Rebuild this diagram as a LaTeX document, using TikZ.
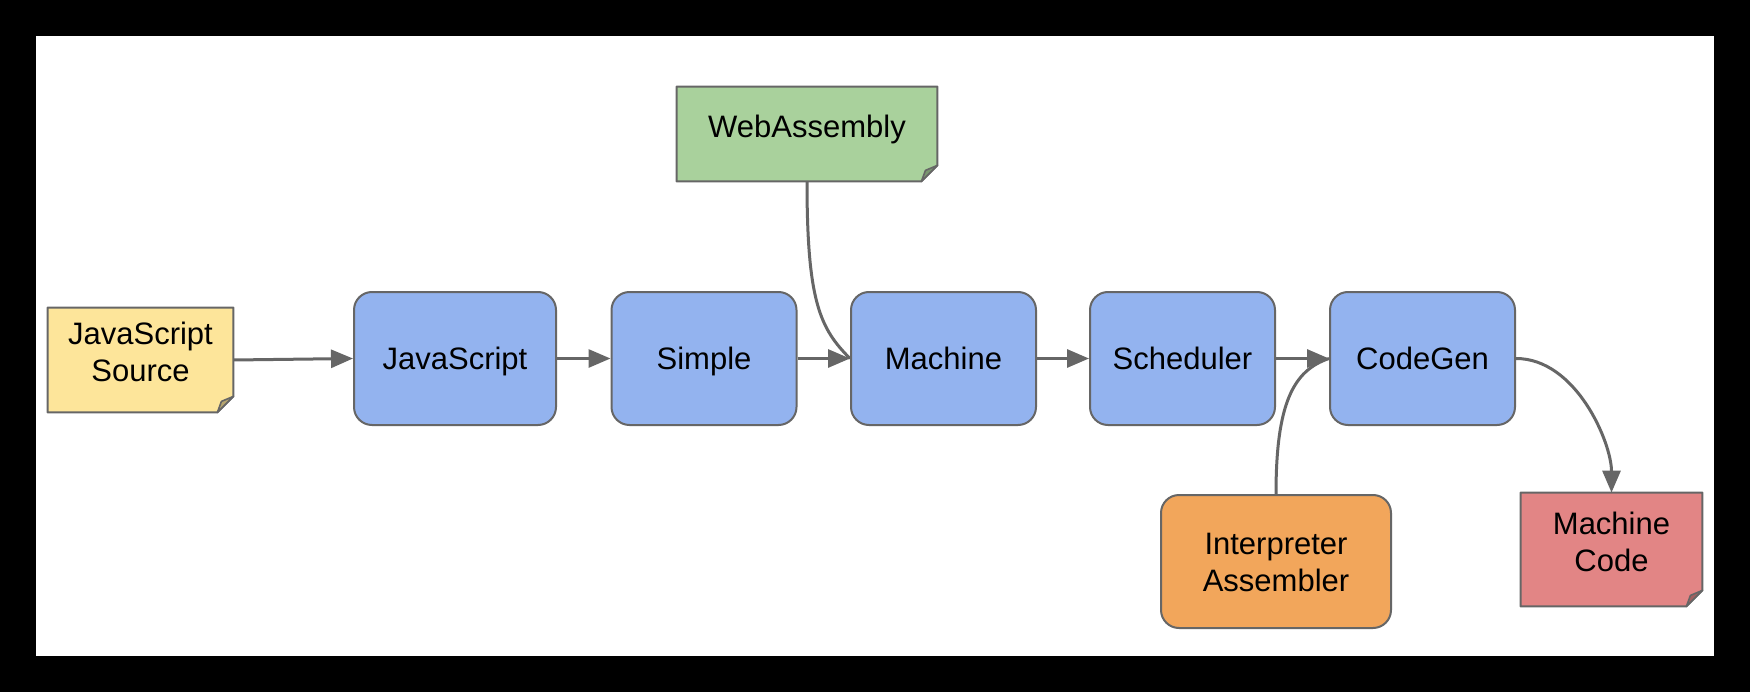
\documentclass[tikz,border=0pt]{standalone}
\usepackage{fontspec}
\setmainfont{Liberation Sans}
\usetikzlibrary{arrows.meta,backgrounds}
\definecolor{stageblue}{HTML}{93B3EF}
\definecolor{noteyellow}{HTML}{FDE59A}
\definecolor{notegreen}{HTML}{A9D19C}
\definecolor{boxorange}{HTML}{F2A65B}
\definecolor{notered}{HTML}{E28585}
\definecolor{linegray}{HTML}{666666}
\newcommand\foldnote[2]{%
  \filldraw[fill=#2,draw=linegray,line width=1pt,line join=round]
    (#1.north west) -- (#1.north east) -- ([yshift=8pt]#1.south east)
    -- ([xshift=-8pt]#1.south east) -- (#1.south west) -- cycle;
  \filldraw[fill=#2!72!black,draw=linegray,line width=0.8pt,line join=round]
    ([yshift=8pt]#1.south east) -- ([xshift=-6pt,yshift=5.5pt]#1.south east)
    -- ([xshift=-8pt]#1.south east) -- cycle;
}
% two centred lines; #3 = box height above the last baseline
\newcommand\twolines[3]{\raisebox{0pt}[#3][0pt]{\begin{tabular}[b]{@{}c@{}}#1\\#2\end{tabular}}}
\tikzset{
  txt/.style={font=\fontsize{15.5pt}{18.5pt}\selectfont, align=center, inner sep=0pt, text=black},
  stagebox/.style={txt, draw=linegray, line width=1pt, fill=stageblue, rounded corners=9pt,
    minimum width=92.5pt, minimum height=66.5pt, text height=11.1pt, text depth=0pt},
  notebox/.style={txt, minimum width=#1},
  arr/.style={draw=linegray, line width=1.5pt, -{Triangle[length=11pt,width=9pt]}},
  merge/.style={draw=linegray, line width=1.5pt},
}
\begin{document}
\begin{tikzpicture}[x=0.5pt,y=0.5pt]
\begin{scope}[on background layer]
  \fill[black] (0,0) rectangle (1750,692);
  \fill[white] (36,36) rectangle (1714,656);
\end{scope}
\useasboundingbox (0,0) rectangle (1750,692);

% notes (text only; shapes drawn on background)
\node[notebox=92.5pt, minimum height=52pt] (jss) at (140.5,332) {\twolines{JavaScript}{Source}{21.6pt}};
\node[notebox=130pt, minimum height=47pt, text height=3.1pt, text depth=0pt] (wasm) at (807,558) {WebAssembly};
\node[notebox=90.5pt, minimum height=56.5pt] (mcode) at (1611.5,142.5) {\twolines{Machine}{Code}{21.6pt}};

% stages
\node[stagebox, minimum width=101pt] (js) at (455,333.5) {JavaScript};
\node[stagebox] (simple) at (704,333.5) {Simple};
\node[stagebox] (machine) at (943.5,333.5) {Machine};
\node[stagebox] (sched) at (1182.5,333.5) {Scheduler};
\node[stagebox] (codegen) at (1422.5,333.5) {CodeGen};
\node[stagebox, fill=boxorange, minimum width=115pt, text height=, text depth=] (interp) at (1276,130.5) {\twolines{Interpreter}{Assembler}{29.6pt}};

\begin{scope}[on background layer]
  \foldnote{jss}{noteyellow}
  \foldnote{wasm}{notegreen}
  \foldnote{mcode}{notered}
\end{scope}

% connectors
\draw[arr] (jss.east) -- (js.west);
\draw[arr] (js.east) -- (simple.west);
\draw[arr] (simple.east) -- (machine.west);
\draw[arr] (machine.east) -- (sched.west);
\draw[arr] (sched.east) -- (codegen.west);
\draw[merge] (wasm.south) .. controls ([yshift=-60pt]wasm.south) and ([xshift=-15pt,yshift=15pt]machine.west) .. (machine.west);
\draw[merge] (interp.north) .. controls ([yshift=45pt]interp.north) and ([xshift=-18pt,yshift=-6pt]codegen.west) .. (codegen.west);
\draw[arr] (codegen.east) .. controls ([xshift=30pt]codegen.east) and ([yshift=25pt]mcode.north) .. (mcode.north);
\end{tikzpicture}
\end{document}
